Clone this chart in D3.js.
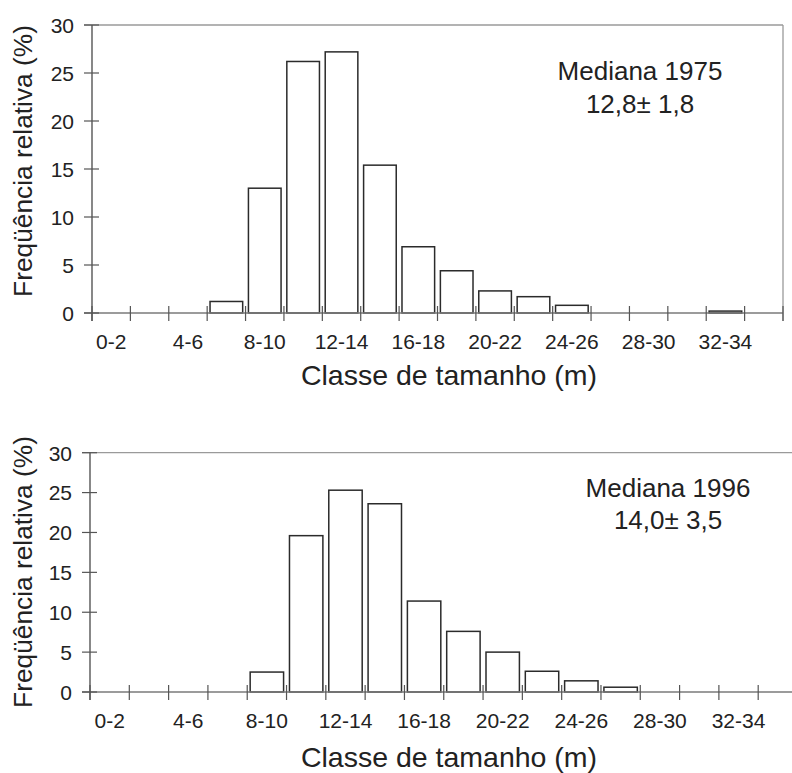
<!DOCTYPE html>
<html>
<head>
<meta charset="utf-8">
<script src="https://cdn.jsdelivr.net/npm/d3@7"></script>
<style>
  html, body { margin: 0; padding: 0; background: #fff; }
  svg { display: block; font-family: "Liberation Sans", Arial, Helvetica, sans-serif; }
</style>
</head>
<body>
<svg id="chart" width="792" height="773"></svg>
<script>
// ---- data ----
const categories = ["0-2","2-4","4-6","6-8","8-10","10-12","12-14","14-16","16-18",
                    "18-20","20-22","22-24","24-26","26-28","28-30","30-32","32-34","34-36"];
const tickLabels = ["0-2","4-6","8-10","12-14","16-18","20-22","24-26","28-30","32-34"];
const yTicks = [0, 5, 10, 15, 20, 25, 30];
const values1975 = [0, 0, 0, 1.2, 13.0, 26.2, 27.2, 15.4, 6.9, 4.4, 2.3, 1.7, 0.8, 0, 0, 0, 0.2, 0];
const values1996 = [0, 0, 0, 0, 2.5, 19.6, 25.3, 23.6, 11.4, 7.6, 5.0, 2.6, 1.4, 0.6, 0, 0, 0, 0];
const notes1975 = ["Mediana 1975", "12,8\u00B1 1,8"];
const notes1996 = ["Mediana 1996", "14,0\u00B1 3,5"];
const yTitle = "Freq\u00FC\u00EAncia relativa (%)";
const xTitle = "Classe de tamanho (m)";

const svg = d3.select("#chart");

function panel(opts, values, notes) {
  const {x0, x1, yTop, yZero, noteX, noteY1, noteY2, tickLabelY, xTitleY, yTitleY} = opts;
  const g = svg.append("g");
  const x = d3.scaleBand().domain(categories).range([x0, x1]).paddingInner(0.15).paddingOuter(0.075);
  const xl = d3.scaleLinear().domain([0, categories.length]).range([x0, x1]);
  const y = d3.scaleLinear().domain([0, 30]).range([yZero, yTop]);

  // frame: top border and right border (grey)
  g.append("line").attr("x1", x0 - 8).attr("x2", x1).attr("y1", y(30)).attr("y2", y(30))
    .attr("stroke", "#9a9a9a").attr("stroke-width", 1.3);
  g.append("line").attr("x1", x1).attr("x2", x1).attr("y1", y(30)).attr("y2", yZero + 8)
    .attr("stroke", "#9a9a9a").attr("stroke-width", 1.3);

  // bars
  g.selectAll("rect.bar").data(categories.map((c, i) => ({c, v: values[i]})).filter(d => d.v > 0))
    .enter().append("rect").attr("class", "bar")
    .attr("x", d => x(d.c)).attr("width", x.bandwidth())
    .attr("y", d => y(d.v)).attr("height", d => y(0) - y(d.v))
    .attr("fill", "#fff").attr("stroke", "#2b2b2b").attr("stroke-width", 1.5);

  // x axis line
  g.append("line").attr("x1", x0 - 8).attr("x2", x1).attr("y1", yZero).attr("y2", yZero)
    .attr("stroke", "#7a7a7a").attr("stroke-width", 1.4);
  // x ticks (crossing)
  g.selectAll("line.xt").data(d3.range(categories.length + 1)).enter().append("line")
    .attr("x1", d => xl(d)).attr("x2", d => xl(d))
    .attr("y1", yZero - 7).attr("y2", yZero + 8)
    .attr("stroke", "#555").attr("stroke-width", 1.2);
  // x tick labels via axis
  const xAxis = d3.axisBottom(x).tickValues(tickLabels).tickSize(0).tickPadding(0);
  const xa = g.append("g").attr("transform", `translate(0,${tickLabelY})`).call(xAxis);
  xa.select(".domain").remove();
  xa.selectAll("text").attr("font-size", 21).attr("fill", "#222").attr("dy", 0)
    .attr("font-family", "'Liberation Sans', Arial, sans-serif");

  // y axis line
  g.append("line").attr("x1", x0).attr("x2", x0).attr("y1", y(30)).attr("y2", yZero + 8)
    .attr("stroke", "#555").attr("stroke-width", 1.4);
  // y ticks (crossing)
  g.selectAll("line.yt").data(yTicks).enter().append("line")
    .attr("x1", x0 - 8).attr("x2", x0 + 7).attr("y1", d => y(d)).attr("y2", d => y(d))
    .attr("stroke", "#555").attr("stroke-width", 1.2);
  const yAxis = d3.axisLeft(y).tickValues(yTicks).tickSize(0).tickPadding(18);
  const ya = g.append("g").attr("transform", `translate(${x0},0)`).call(yAxis);
  ya.select(".domain").remove();
  ya.selectAll("text").attr("font-size", 21).attr("fill", "#222").attr("dy", "0.35em")
    .attr("font-family", "'Liberation Sans', Arial, sans-serif");

  // titles
  g.append("text").attr("x", 449).attr("y", xTitleY).attr("text-anchor", "middle")
    .attr("font-size", 28.5).attr("fill", "#222").text(xTitle);
  g.append("text").attr("transform", `translate(32,${yTitleY}) rotate(-90)`)
    .attr("text-anchor", "middle").attr("font-size", 26.3).attr("fill", "#222").text(yTitle);

  // median note
  g.append("text").attr("x", noteX).attr("y", noteY1).attr("text-anchor", "middle")
    .attr("font-size", 26).attr("fill", "#222").text(notes[0]);
  g.append("text").attr("x", noteX).attr("y", noteY2).attr("text-anchor", "middle")
    .attr("font-size", 26).attr("fill", "#222").text(notes[1]);
}

panel({x0: 92, x1: 783, yTop: 25, yZero: 313, noteX: 640, noteY1: 80, noteY2: 113,
       tickLabelY: 349, xTitleY: 385, yTitleY: 161}, values1975, notes1975);
panel({x0: 90, x1: 797.5, yTop: 452.7, yZero: 692, noteX: 668, noteY1: 497, noteY2: 529,
       tickLabelY: 728, xTitleY: 767, yTitleY: 572}, values1996, notes1996);
</script>
</body>
</html>
